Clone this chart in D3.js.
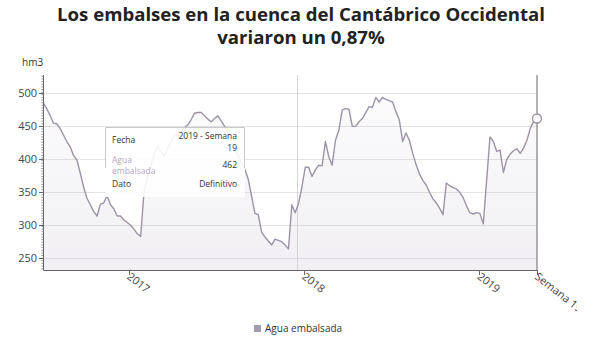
<!DOCTYPE html>
<html><head><meta charset="utf-8">
<script src="https://cdn.jsdelivr.net/npm/d3@7"></script>
<style>
html,body{margin:0;padding:0;background:#fff;}
svg{display:block;font-family:"Open Sans",sans-serif;}
</style></head>
<body>
<svg id="chart" width="600" height="338"></svg>
<script>
// ---- data ----
const titleLines = ["Los embalses en la cuenca del Cantábrico Occidental", "variaron un 0,87%"];
const unitLabel = "hm3";
const seriesName = "Agua embalsada";
const startWeek = "2016-07-06";
const values = [
486,477,467,455,454,447,437,427,419,406,
399,379,358,341,331,321,314,332,334,345,
331,325,314,314,308,304,300,294,287,283,
352,372,390,408,420,413,405,416,427,436,
440,444,448,452,460,470,471,471,466,461,
457,462,466,458,450,440,428,418,406,395,
385,370,345,318,316,290,282,276,270,279,
277,275,270,264,331,319,333,358,388,388,
374,384,391,390,427,404,391,429,444,475,
477,476,450,450,457,462,471,480,479,494,
487,494,491,489,487,472,460,427,440,429,
409,392,378,368,361,350,340,334,326,316,
364,360,357,355,350,342,330,319,317,319,
318,302,368,434,427,412,414,380,400,408,
413,416,409,417,429,447,458,462
];
const yTicks = [250, 300, 350, 400, 450, 500];
const yDomain = [232, 528];
const xTickYears = ["2017-01-01", "2018-01-01", "2019-01-01"];
const xTickLabels = ["2017", "2018", "2019"];
const lastTickLabel = "Semana 19";
const plotLineDate = "2017-12-16";
const tooltipRows = [
  {label: ["Fecha"], value: ["2019 - Semana", "19"], labelColor: "#333"},
  {label: ["Agua", "embalsada"], value: ["462"], labelColor: "#b3a9c0"},
  {label: ["Dato"], value: ["Definitivo"], labelColor: "#333"}
];

// ---- build ----
(function () {
const parse = d3.utcParse("%Y-%m-%d");
const start = parse(startWeek);
const data = values.map((v, i) => ({date: d3.utcWeek.offset(start, i), value: v}));

const svg = d3.select("#chart");
const pL = 43.3, pR = 537, pT = 75, pB = 270;
const x = d3.scaleUtc().domain(d3.extent(data, d => d.date)).range([pL, pR]);
const y = d3.scaleLinear().domain(yDomain).range([pB, pT]);

// title
svg.append("g").selectAll("text").data(titleLines).join("text")
  .attr("x", 301).attr("y", (d, i) => 21 + i * 23)
  .attr("text-anchor", "middle")
  .attr("font-size", 18.6).attr("font-weight", "bold").attr("fill", "#222")
  .text(d => d);

svg.append("text").attr("x", 22).attr("y", 66).attr("font-size", 10).attr("fill", "#333").text(unitLabel);

// gradient for area
const defs = svg.append("defs");
const grad = defs.append("linearGradient").attr("id", "ag").attr("x1", 0).attr("y1", 0).attr("x2", 0).attr("y2", 1);
grad.append("stop").attr("offset", "0%").attr("stop-color", "#a79cb4").attr("stop-opacity", 0.04);
grad.append("stop").attr("offset", "100%").attr("stop-color", "#a79cb4").attr("stop-opacity", 0.16);
defs.append("clipPath").attr("id", "lblclip").append("rect")
  .attr("x", 0).attr("y", 0).attr("width", 577).attr("height", 338);

// grid
svg.append("g").selectAll("line").data(yTicks).join("line")
  .attr("x1", pL).attr("x2", pR)
  .attr("y1", d => Math.round(y(d)) + 0.5).attr("y2", d => Math.round(y(d)) + 0.5)
  .attr("stroke", "#e3e3e3").attr("stroke-width", 1);

// area
svg.append("path").datum(data)
  .attr("d", d3.area().x(d => x(d.date)).y0(pB).y1(d => y(d.value)))
  .attr("fill", "url(#ag)");

// plot line
const plx = Math.round(x(parse(plotLineDate))) + 0.5;
svg.append("line")
  .attr("x1", plx).attr("x2", plx)
  .attr("y1", pT).attr("y2", pB)
  .attr("stroke", "#d6d6d6").attr("stroke-width", 1);

// line
svg.append("path").datum(data)
  .attr("d", d3.line().x(d => x(d.date)).y(d => y(d.value)))
  .attr("fill", "none").attr("stroke", "#9d93a8").attr("stroke-width", 1.4)
  .attr("stroke-linejoin", "round");

// y axis
const ya = svg.append("g");
ya.append("line").attr("x1", 43.5).attr("x2", 43.5).attr("y1", pT).attr("y2", pB).attr("stroke", "#666");
ya.selectAll("line.minor").data(d3.range(234, 528, 4)).join("line").attr("class", "minor")
  .attr("x1", 41.5).attr("x2", 43.5).attr("y1", d => y(d)).attr("y2", d => y(d))
  .attr("stroke", "#777").attr("stroke-width", 0.8);
ya.selectAll("line.major").data(yTicks).join("line").attr("class", "major")
  .attr("x1", 39).attr("x2", 43.5).attr("y1", d => Math.round(y(d)) + 0.5).attr("y2", d => Math.round(y(d)) + 0.5)
  .attr("stroke", "#666");
ya.selectAll("text").data(yTicks).join("text")
  .attr("x", 37).attr("y", d => y(d) + 4)
  .attr("text-anchor", "end").attr("font-size", 11).attr("fill", "#444")
  .text(d => d);

// x axis
const xa = svg.append("g");
xa.append("line").attr("x1", pL).attr("x2", pR).attr("y1", pB + 0.5).attr("y2", pB + 0.5).attr("stroke", "#666");
const xt = xTickYears.map((d, i) => ({date: parse(d), label: xTickLabels[i]}));
xt.push({date: data[data.length - 1].date, label: lastTickLabel});
xa.selectAll("line.t").data(xt).join("line").attr("class", "t")
  .attr("x1", d => Math.round(x(d.date)) + 0.5).attr("x2", d => Math.round(x(d.date)) + 0.5)
  .attr("y1", pB).attr("y2", pB + 5).attr("stroke", "#666");
xa.append("g").attr("clip-path", "url(#lblclip)").selectAll("text").data(xt).join("text")
  .attr("transform", d => `translate(${x(d.date) - 3},${pB + 8}) rotate(38)`)
  .attr("font-size", 11).attr("fill", "#444")
  .text(d => d.label);

// hover crosshair & marker
const last = data[data.length - 1];
svg.append("line").attr("x1", x(last.date)).attr("x2", x(last.date)).attr("y1", pT).attr("y2", pB)
  .attr("stroke", "#666").attr("stroke-width", 1);
svg.append("circle").attr("cx", x(last.date)).attr("cy", y(last.value)).attr("r", 4.5)
  .attr("fill", "#fff").attr("stroke", "#9d93a8").attr("stroke-width", 1.4);

// tooltip
const tt = svg.append("g").attr("font-size", 8.5);
tt.append("rect").attr("x", 105).attr("y", 127).attr("width", 140).attr("height", 70)
  .attr("fill", "#fff").attr("fill-opacity", 0.88);
tt.append("path").attr("d", "M105.5,168 V127.5 H244.5 V168").attr("fill", "none").attr("stroke", "#c8c8c8");
const rowY = [[143], [163, 174], [187]];
const valY = [[139, 151], [168], [187]];
tooltipRows.forEach((r, i) => {
  r.label.forEach((t, j) => tt.append("text").attr("x", 112).attr("y", rowY[i][j]).attr("fill", r.labelColor).text(t));
  r.value.forEach((t, j) => tt.append("text").attr("x", 237).attr("y", valY[i][j]).attr("text-anchor", "end").attr("fill", "#333").text(t));
});

// legend
const lg = svg.append("g");
lg.append("rect").attr("x", 254).attr("y", 325).attr("width", 7).attr("height", 7).attr("fill", "#a39bae");
lg.append("text").attr("x", 265).attr("y", 332).attr("font-size", 10).attr("fill", "#333").text(seriesName);
})();
</script>
</body></html>
